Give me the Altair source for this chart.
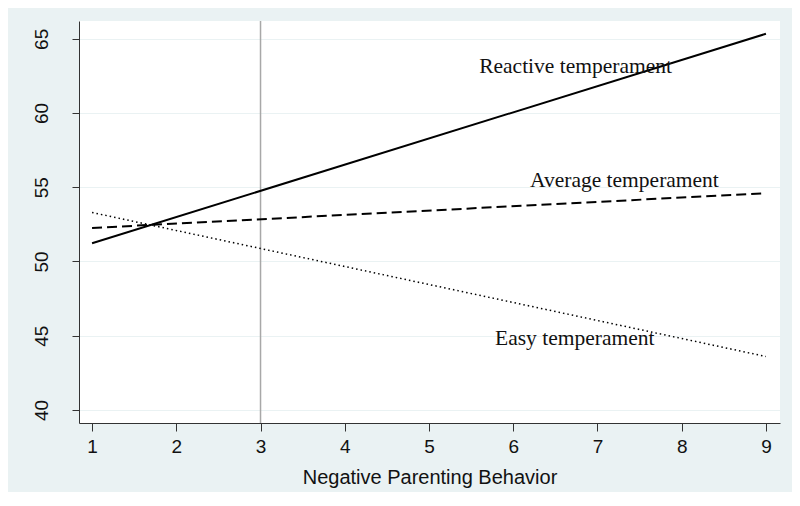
import altair as alt
import pandas as pd

# Data
x_vals = [1, 9]
reactive = [51.23, 65.34]
average = [52.26, 54.6]
easy = [53.3, 43.6]

label_text = ["Reactive temperament", "Average temperament", "Easy temperament"]
label_x = [6.74, 7.32, 6.73]
label_y = [62.71, 55.05, 44.38]

ref_x = [3]
y_ticks = [40, 45, 50, 55, 60, 65]
x_ticks = [1, 2, 3, 4, 5, 6, 7, 8, 9]

rows = []
for name, vals in [("Reactive", reactive), ("Average", average), ("Easy", easy)]:
    for xv, yv in zip(x_vals, vals):
        rows.append({"series": name, "x": xv, "y": yv})
df = pd.DataFrame(rows)
labels = pd.DataFrame({"text": label_text, "x": label_x, "y": label_y})
refdf = pd.DataFrame({"x": ref_x})

BG = "#EAF2F3"
xscale = alt.Scale(domain=[0.845, 9.167], nice=False, zero=False)
yscale = alt.Scale(domain=[39.12, 66.2], nice=False, zero=False)

xaxis = alt.Axis(values=x_ticks, title="Negative Parenting Behavior", grid=False,
                 tickSize=8, labelPadding=6, labelFontSize=19, titleFontSize=20,
                 titleY=60, titleBaseline="alphabetic", labelFont="Liberation Sans",
                 titleFont="Liberation Sans", titleFontWeight="normal",
                 domainColor="#333", tickColor="#333", labelColor="#111", titleColor="#111")
yaxis = alt.Axis(values=y_ticks, title=None, grid=True, gridColor=BG, gridWidth=1.2,
                 tickSize=7, labelAngle=270, labelAlign="center", labelBaseline="alphabetic",
                 labelPadding=25, labelFontSize=19, labelFont="Liberation Sans",
                 domainColor="#333", tickColor="#333", labelColor="#111")

base = alt.Chart(df)

def line(name, dash, width):
    kw = dict(color="black", strokeWidth=width, clip=True)
    if dash:
        kw["strokeDash"] = dash
    return base.transform_filter(alt.datum.series == name).mark_line(**kw).encode(
        x=alt.X("x:Q", scale=xscale, axis=xaxis),
        y=alt.Y("y:Q", scale=yscale, axis=yaxis),
    )

rule = alt.Chart(refdf).mark_rule(color="#A8A8A8", strokeWidth=1.5).encode(
    x=alt.X("x:Q", scale=xscale, axis=xaxis)
)

text = alt.Chart(labels).mark_text(font="Liberation Serif", fontSize=21.5, color="#111",
                                   align="center", baseline="alphabetic").encode(
    x=alt.X("x:Q", scale=xscale, axis=xaxis),
    y=alt.Y("y:Q", scale=yscale, axis=yaxis),
    text="text:N",
)

chart = alt.layer(
    rule,
    line("Easy", [1.5, 3], 1.5),
    line("Average", [10, 5], 2),
    line("Reactive", None, 2),
    text,
).properties(
    width=701, height=402,
    padding={"left": 71, "top": 13, "right": 12, "bottom": 69},
    autosize=alt.AutoSizeParams(type="none"),
    background=BG,
).configure_view(fill="white", stroke=None)

chart.save("out.html", embed_options={"renderer": "svg", "actions": False})
